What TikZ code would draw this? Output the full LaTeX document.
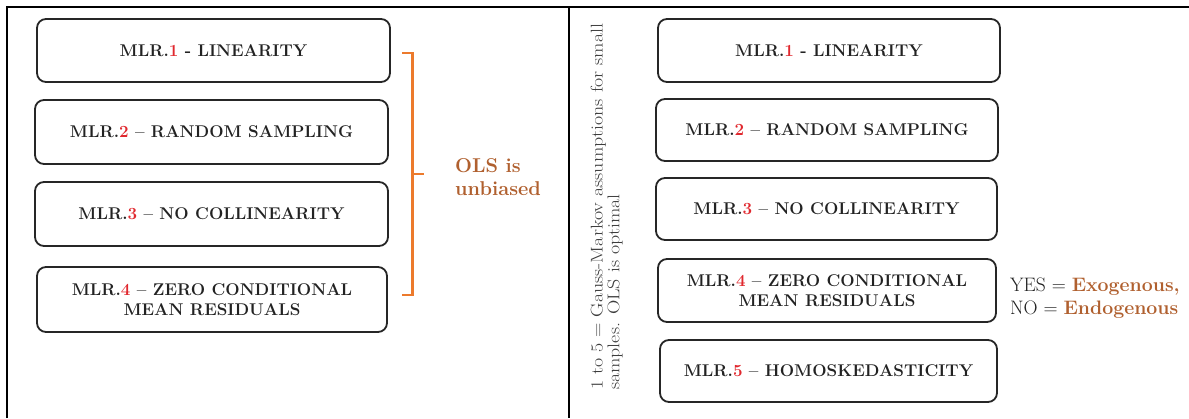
\documentclass[tikz,border=0pt]{standalone}
\usepackage{xcolor}
\usetikzlibrary{calc}
\definecolor{mlrred}{HTML}{E0282E}
\definecolor{bracecol}{HTML}{EC7A2C}
\definecolor{browntxt}{HTML}{B0602F}
\definecolor{boxtxt}{HTML}{222222}
\definecolor{graytxt}{HTML}{3C3C3C}
\begin{document}
\begin{tikzpicture}[x=1pt,y=-1pt,
  box/.style={draw=black!85, line width=1.8pt, rounded corners=9pt, inner sep=0pt,
    align=center, font=\fontsize{17}{20}\selectfont\bfseries, text=boxtxt,
    minimum width=#1},
  box/.default=350pt,
  frameline/.style={line width=2.2pt, draw=black},
  bracestyle/.style={line width=2.4pt, draw=bracecol}]
\useasboundingbox (0,0) rectangle (1189,418);
% table frame
\draw[frameline] (7,418) -- (7,7) -- (1189,7);
\draw[frameline] (569,7) -- (569,418);
% left panel
\node[box=353pt, minimum height=63pt] (l1) at (213.5,50.5) {MLR.\textcolor{mlrred}{1} - LINEARITY};
\node[box=353pt, minimum height=64pt] (l2) at (211.5,132) {MLR.\textcolor{mlrred}{2} -- RANDOM SAMPLING};
\node[box=353pt, minimum height=64pt] (l3) at (211.5,214) {MLR.\textcolor{mlrred}{3} -- NO COLLINEARITY};
\node[box=350pt, minimum height=65pt] (l4) at (212,299.5) {MLR.\textcolor{mlrred}{4} -- ZERO CONDITIONAL\\MEAN RESIDUALS};
% brace
\coordinate (bt) at (402,53);
\coordinate (bb) at (402,295);
\draw[bracestyle] (bt) -- ++(10.5,0) coordinate (btr) -- (btr |- bb) coordinate (bbr) -- (bb);
\coordinate (bm) at ($(btr)!0.5!(bbr)$);
\draw[bracestyle] (bm) -- ++(11,0);
\node[anchor=north west, align=left, inner sep=0pt, font=\fontsize{20}{23}\selectfont\bfseries, text=browntxt] (ols) at (455,158.5) {OLS is\\unbiased};
% right panel
\node[rotate=90, anchor=north west, inner sep=0pt, text=graytxt] (gm) at (590.5,390)
  {\fontsize{17}{16}\selectfont\scalebox{1.17}[1]{\begin{tabular}{@{}l@{}}1 to 5 = Gauss-Markov assumptions for small\\samples. OLS is optimal\end{tabular}}};
\node[box=342pt, minimum height=63pt] (r1) at (829,50.5) {MLR.\textcolor{mlrred}{1} - LINEARITY};
\node[box=342pt, minimum height=62pt] (r2) at (827,130) {MLR.\textcolor{mlrred}{2} -- RANDOM SAMPLING};
\node[box=341pt, minimum height=62pt] (r3) at (826.5,209) {MLR.\textcolor{mlrred}{3} -- NO COLLINEARITY};
\node[box=338pt, minimum height=63pt] (r4) at (827,290.5) {MLR.\textcolor{mlrred}{4} -- ZERO CONDITIONAL\\MEAN RESIDUALS};
\node[box=337pt, minimum height=62pt] (r5) at (828.5,371) {MLR.\textcolor{mlrred}{5} -- HOMOSKEDASTICITY};
\node[anchor=north west, align=left, inner sep=0pt, text=boxtxt, font=\fontsize{19.5}{23}\selectfont] (yn) at (1010,278)
  {YES = \textcolor{browntxt}{\bfseries Exogenous,}\\NO = \textcolor{browntxt}{\bfseries Endogenous}};
\end{tikzpicture}
\end{document}
